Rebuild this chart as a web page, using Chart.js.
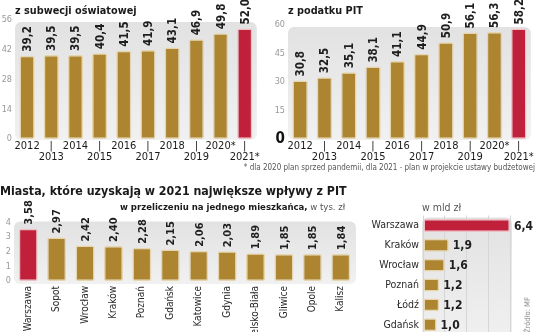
<!DOCTYPE html>
<html>
<head>
<meta charset="utf-8">
<title>Wpływy samorządów</title>
<script src="https://cdn.jsdelivr.net/npm/chart.js"></script>
<style>
  body { margin: 0; width: 536px; height: 332px; overflow: hidden; position: relative; background: #fff;
         font-family: "DejaVu Sans Condensed", Roboto, sans-serif; color: #1a1a1a; }
  canvas, .t { position: absolute; }
  .t { white-space: nowrap; }
</style>
</head>
<body>
<canvas id="c1" width="262" height="170" style="left:0;top:0"></canvas>
<canvas id="c2" width="271" height="170" style="left:265px;top:0"></canvas>
<canvas id="c3" width="360" height="150" style="left:0;top:195px"></canvas>
<canvas id="c4" width="181" height="140" style="left:355px;top:205px"></canvas>

<div class="t" style="left:15px;top:4px;font-size:10.8px;line-height:14px;font-weight:bold">z subwecji oświatowej</div>
<div class="t" style="left:288px;top:4px;font-size:10.8px;line-height:14px;font-weight:bold">z podatku PIT</div>
<div class="t" style="right:1px;top:163px;font-size:8px;line-height:10px;color:#555">* dla 2020 plan sprzed pandemii, dla 2021 - plan w projekcie ustawy budżetowej</div>
<div class="t" style="left:0;top:183px;font-size:12.3px;line-height:16px;font-weight:bold">Miasta, które uzyskają w 2021 największe wpływy z PIT</div>
<div class="t" style="left:120px;top:201px;font-size:9.5px;line-height:12px"><b>w przeliczeniu na jednego mieszkańca,</b> <span style="color:#555">w tys. zł</span></div>
<div class="t" style="left:422px;top:201px;font-size:10.5px;line-height:12px;color:#555">w mld zł</div>
<div class="t" style="left:510px;top:310px;font-size:7.5px;line-height:10px;color:#888;transform:rotate(-90deg);transform-origin:center">Źródło: MF</div>

<script>
// dane
const lata = ['2012', '2013', '2014', '2015', '2016', '2017', '2018', '2019', '2020*', '2021*'];
const subwencja = [39.2, 39.5, 39.5, 40.4, 41.5, 41.9, 43.1, 46.9, 49.8, 52.0];
const podatekPit = [30.8, 32.5, 35.1, 38.1, 41.1, 44.9, 50.9, 56.1, 56.3, 58.2];

const miasta = ['Warszawa', 'Sopot', 'Wrocław', 'Kraków', 'Poznań', 'Gdańsk', 'Katowice', 'Gdynia',
                'Bielsko-Biała', 'Gliwice', 'Opole', 'Kalisz'];
const pitNaMieszkanca = [3.58, 2.97, 2.42, 2.40, 2.28, 2.15, 2.06, 2.03, 1.89, 1.85, 1.85, 1.84];

const miastaMld = ['Warszawa', 'Kraków', 'Wrocław', 'Poznań', 'Łódź', 'Gdańsk'];
const pitMld = [6.4, 1.9, 1.6, 1.2, 1.2, 1.0];

const F = '"DejaVu Sans Condensed", Roboto, sans-serif';
const ZLOTY = '#ad8530', CZERWONY = '#c0203a';
const OBW_Z = '#e6d6b0', OBW_C = '#efbfc6';

// wyróżniony słupek na czerwono
const wypelnienie = (n, wyr) => Array.from({ length: n }, (_, i) => i === wyr ? CZERWONY : ZLOTY);
const obwodka = (n, wyr) => Array.from({ length: n }, (_, i) => i === wyr ? OBW_C : OBW_Z);

// szare tło pod słupkami
const tlo = {
  id: 'tlo',
  beforeDraw(chart, args, o) {
    const { ctx, chartArea: a } = chart;
    const l = a.left + (o.l || 0), t = a.top + (o.t || 0), r = a.right + (o.r || 0), b = a.bottom + (o.b || 0);
    const g = ctx.createLinearGradient(0, t, 0, b);
    g.addColorStop(0, '#e2e2e2');
    g.addColorStop(1, '#f1f1f1');
    ctx.save();
    ctx.fillStyle = g;
    ctx.beginPath();
    ctx.roundRect(l, t, r - l, b - t, 6);
    ctx.fill();
    ctx.restore();
  }
};

// wartości nad słupkami (pionowo) albo obok (poziomo)
const etykiety = {
  id: 'etykiety',
  afterDatasetsDraw(chart, args, o) {
    const { ctx } = chart;
    const dane = chart.data.datasets[0].data;
    ctx.save();
    ctx.font = 'bold ' + o.size + 'px ' + F;
    ctx.fillStyle = '#1e1e1e';
    ctx.textAlign = 'left';
    ctx.textBaseline = 'middle';
    chart.getDatasetMeta(0).data.forEach((bar, i) => {
      const txt = dane[i].toFixed(o.dec).replace('.', ',');
      if (chart.options.indexAxis === 'y') {
        ctx.fillText(txt, bar.x + o.gap, bar.y + 1);
      } else {
        ctx.save();
        ctx.translate(bar.x + 1, bar.y - o.gap);
        ctx.rotate(-Math.PI / 2);
        ctx.fillText(txt, 0, 0);
        ctx.restore();
      }
    });
    ctx.restore();
  }
};

function osLat() {
  return {
    grid: { display: false, drawTicks: false },
    border: { display: false },
    ticks: {
      autoSkip: false, maxRotation: 0, padding: 2, color: '#1a1a1a',
      font: { family: F, size: 11, lineHeight: 1 },
      callback: (v, i) => i % 2 ? ['|', lata[i]] : lata[i]
    },
    afterFit: s => { s.height = 31; }
  };
}

const jestZero = c => !!(c && c.tick && c.tick.value === 0);

function osY(max, krok, szer, zeroGrube) {
  return {
    min: 0, max: max,
    grid: { display: false, drawTicks: false },
    border: { display: false },
    ticks: {
      stepSize: krok, padding: 3,
      color: c => zeroGrube && jestZero(c) ? '#111' : '#999',
      font: c => zeroGrube && jestZero(c) ? { family: F, size: 15, weight: 'bold' } : { family: F, size: 9 }
    },
    afterFit: s => { s.width = szer; }
  };
}

function slupki(dane, wyr, szer) {
  return [{
    data: dane,
    backgroundColor: wypelnienie(dane.length, wyr),
    borderColor: obwodka(dane.length, wyr),
    borderWidth: 1.5, borderRadius: 2, borderSkipped: false,
    barPercentage: szer, categoryPercentage: 1
  }];
}

const wspolne = {
  responsive: false,
  animation: false,
  events: []
};

Chart.defaults.font.family = F;

new Chart(document.getElementById('c1'), {
  type: 'bar',
  data: { labels: lata, datasets: slupki(subwencja, 9, 0.63) },
  options: {
    ...wspolne,
    layout: { padding: { top: 20, right: 4 } },
    plugins: { legend: { display: false }, tooltip: { enabled: false },
               tlo: { t: 2, b: 1 }, etykiety: { size: 11.5, dec: 1, gap: 4 } },
    scales: { x: osLat(), y: osY(56, 14, 15, false) }
  },
  plugins: [tlo, etykiety]
});

new Chart(document.getElementById('c2'), {
  type: 'bar',
  data: { labels: lata, datasets: slupki(podatekPit, 9, 0.64) },
  options: {
    ...wspolne,
    layout: { padding: { top: 25, right: 4 } },
    plugins: { legend: { display: false }, tooltip: { enabled: false },
               tlo: { t: 2, b: 1 }, etykiety: { size: 11.5, dec: 1, gap: 4 } },
    scales: { x: osLat(), y: osY(60, 15, 23, true) }
  },
  plugins: [tlo, etykiety]
});

new Chart(document.getElementById('c3'), {
  type: 'bar',
  data: { labels: miasta, datasets: slupki(pitNaMieszkanca, 0, 0.67) },
  options: {
    ...wspolne,
    layout: { padding: { top: 27.5, right: 5 } },
    plugins: { legend: { display: false }, tooltip: { enabled: false },
               tlo: { t: -1, b: 3, r: 1 }, etykiety: { size: 11, dec: 2, gap: 4 } },
    scales: {
      x: {
        grid: { display: false, drawTicks: false },
        border: { display: false },
        ticks: { autoSkip: false, minRotation: 90, maxRotation: 90, padding: 5, color: '#2a2a2a',
                 font: { family: F, size: 10 } },
        afterFit: s => { s.height = 64; }
      },
      y: osY(4, 1, 14, false)
    }
  },
  plugins: [tlo, etykiety]
});

new Chart(document.getElementById('c4'), {
  type: 'bar',
  data: { labels: miastaMld, datasets: slupki(pitMld, 0, 0.65) },
  options: {
    ...wspolne,
    indexAxis: 'y',
    layout: { padding: { top: 10.5, right: 26, bottom: 7 } },
    plugins: { legend: { display: false }, tooltip: { enabled: false },
               tlo: { t: 2, l: -1, r: 2, b: 10 }, etykiety: { size: 12, dec: 1, gap: 4 } },
    scales: {
      x: {
        min: 0, max: 6.4,
        grid: { color: '#d6d6d6', lineWidth: 1, drawTicks: false },
        border: { display: false },
        ticks: { display: false, stepSize: 1.6 },
        afterFit: s => { s.height = 0; }
      },
      y: {
        grid: { display: false, drawTicks: false },
        border: { display: false },
        ticks: { padding: 4, color: '#2a2a2a', font: { family: F, size: 10.5 } },
        afterFit: s => { s.width = 68; }
      }
    }
  },
  plugins: [tlo, etykiety]
});
</script>
</body>
</html>
